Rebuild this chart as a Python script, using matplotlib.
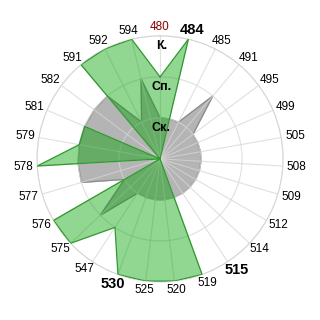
import matplotlib
matplotlib.use('Agg')
import matplotlib.pyplot as plt
import numpy as np

plt.rcParams['font.family'] = ['Liberation Sans', 'DejaVu Sans']

# categories, clockwise from the top
categories = ['480', '484', '485', '491', '495', '499', '505', '508', '509',
              '512', '514', '515', '519', '520', '525', '530', '547', '575',
              '576', '577', '578', '579', '581', '582', '591', '592', '594']

# levels: 1 = Ск., 2 = Сп., 3 = К.
gray_vals = [1, 1, 1, 2, 1, 1, 1, 1, 1, 1, 1, 1, 1, 1, 1, 1, 1, 2,
             1, 2, 2, 2, 2, 2, 2, 1, 2]
green_vals = [2, 3, 0, 0, 0, 0, 0, 0, 0, 0, 0, 0, 3, 3, 3, 3, 2, 3,
              3, 0, 3, 2, 2, 0, 3, 3, 3]

level_names = ['Ск.', 'Сп.', 'К.']
level_vals = [1, 2, 3]

bold_labels = ['484', '515', '530']
red_labels = ['480']

n = len(categories)
theta = np.arange(n) * 2 * np.pi / n
theta_c = np.append(theta, theta[0])

fig = plt.figure(figsize=(3.2, 3.2), dpi=100)
ax = fig.add_axes([0.1156, 0.119, 0.769, 0.769], projection='polar')
ax.set_theta_zero_location('N')
ax.set_theta_direction(-1)
ax.set_ylim(0, 3)

g = np.append(gray_vals, gray_vals[0])
ax.fill(theta_c, g, color='#b4b4b4', zorder=2)
ax.plot(theta_c, g, color='#8c8c8c', lw=0.9, zorder=2)

gr = np.append(green_vals, green_vals[0])
ax.fill(theta_c, gr, color='#00a000', alpha=0.43, lw=0, zorder=3)
ax.plot(theta_c, gr, color='#2f9a2f', lw=0.9, zorder=3)

# grid on top, light
ax.set_xticks(theta)
ax.set_yticks(level_vals)
ax.set_xticklabels([])
ax.set_yticklabels([])
ax.set_axisbelow(False)
ax.grid(True, color='#d6d6d6', lw=0.8, alpha=0.75, zorder=4)
ax.spines['polar'].set_color('#d6d6d6')
ax.spines['polar'].set_linewidth(0.8)

# category labels around the circle
for th, lab in zip(theta, categories):
    s, c = np.sin(th), np.cos(th)
    if lab in bold_labels:
        fs, fw = 10.5, 'bold'
    else:
        fs, fw = 8.5, 'normal'
    col = '#8b0000' if lab in red_labels else 'black'
    w = len(lab) * 0.556 * fs
    h = 0.75 * fs
    dx = 3 * s + w / 2 * s
    dy = 3 * c + h / 2 * c
    ax.annotate(lab, xy=(th, 3.0), xytext=(dx, dy), textcoords='offset points',
                ha='center', va='center', fontsize=fs, fontweight=fw,
                color=col, annotation_clip=False, zorder=6)

# level names on the top spoke
for name, v in zip(level_names, level_vals):
    ax.annotate(name, xy=(0, v), xytext=(1, -7.3), textcoords='offset points',
                ha='center', va='center', fontsize=9, fontweight='bold',
                color='black', zorder=6)

plt.savefig('out.png', dpi=100)
